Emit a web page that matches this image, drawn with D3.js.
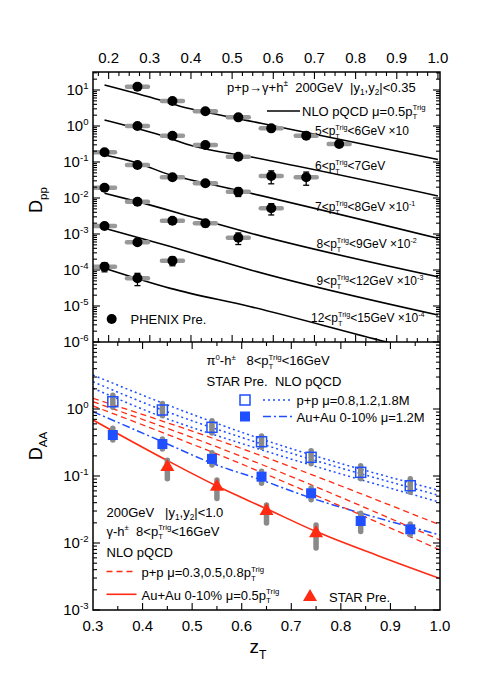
<!DOCTYPE html>
<html><head><meta charset="utf-8">
<script src="https://cdn.jsdelivr.net/npm/d3@7"></script>
<style>
body{margin:0;background:#fff}
text{font-family:"Liberation Sans",Arial,Helvetica,sans-serif;white-space:pre}
</style>
</head><body>
<svg id="c" width="491" height="688"></svg>
<script>
// ---------------- DATA ----------------
const topXTicks = [0.2,0.3,0.4,0.5,0.6,0.7,0.8,0.9,1.0];
const topYExps = [1,0,-1,-2,-3,-4,-5,-6];
const botXTicks = [0.3,0.4,0.5,0.6,0.7,0.8,0.9,1.0];
const botYExps = [0,-1,-2,-3];

const zA = [0.27,0.355,0.435,0.515,0.595,0.68,0.76];
const dA = [12.4,4.95,2.56,1.74,0.86,0.54,0.316];
const eA = [0,0,0,0,0,0,0];
const zB = [0.27,0.355,0.435,0.515,0.595,0.68];
const dB = [1.0,0.538,0.296,0.140,0.0408,0.0376];
const eB = [0,0,0,0,0.016,0.015];
const zC = [0.19,0.27,0.355,0.435,0.515,0.595];
const dC = [0.186,0.0826,0.0376,0.0256,0.0150,0.00518];
const eC = [0,0,0,0,0.004,0.0018];
const zD = [0.19,0.27,0.355,0.435,0.515];
const dD = [0.0193,0.00789,0.00234,0.00198,0.00079];
const eD = [0,0,0,0.0004,0.00028];
const zE = [0.19,0.27,0.355];
const dE = [0.00167,0.000588,0.000181];
const eE = [0.0003,0,0.00005];
const zF = [0.19,0.27];
const dF = [0.000124,0.0000588];
const eF = [0.000035,0.000022];

const nzA = [0.19,0.325,0.39,0.42,0.57,1.0];
const nA  = [13.8,5.27,3.16,2.66,1.19,0.118];
const nzB = [0.19,0.325,0.405,0.55,1.0];
const nB  = [1.47,0.56,0.278,0.135,0.0114];
const nzC = [0.19,0.27,0.35,0.42,0.545,1.0];
const nC  = [0.156,0.0938,0.0436,0.0284,0.0135,0.00076];
const nzD = [0.19,0.27,0.42,0.545,1.0];
const nD  = [0.0135,0.00794,0.00263,0.00105,0.0000646];
const nzE = [0.19,0.35,0.46,0.545,1.0];
const nE  = [0.00145,0.000447,0.000191,0.0001,0.0000056];
const nzF = [0.19,0.35,0.545,0.876,1.0];
const nF  = [0.000112,0.0000309,0.00000955,0.000001,0.00000045];

const topLabels = [
  "5<p_{T}^{Trig}<6GeV \u00d710",
  "6<p_{T}^{Trig}<7GeV",
  "7<p_{T}^{Trig}<8GeV \u00d710^{-1}",
  "8<p_{T}^{Trig}<9GeV \u00d710^{-2}",
  "9<p_{T}^{Trig}<12GeV \u00d710^{-3}",
  "12<p_{T}^{Trig}<15GeV \u00d710^{-4}"
];

const zSq = [0.34,0.44,0.54,0.64,0.74,0.84,0.94];
const ppSq = [1.285,0.966,0.533,0.325,0.19,0.1135,0.0716];
const ppSysUp = [0.25,0.25,0.25,0.22,0.25,0.25,0.27];
const ppSysDn = [0.17,0.18,0.18,0.17,0.2,0.2,0.2];
const aaSq = [0.409,0.30,0.18,0.0977,0.0552,0.0213,0.016];
const aaSysUp = [0.26,0.19,0.23,0.2,0.2,0.3,0.2];
const aaSysDn = [0.16,0.16,0.19,0.2,0.2,0.3,0.17];
const zTri = [0.45,0.55,0.65,0.75];
const aaTri = [0.136,0.069,0.030,0.014];
const triSysUp = [0.26,0.26,0.23,0.33];
const triSysDn = [0.33,0.33,0.34,0.4];

const bzDot = [0.3,0.44,0.616,1.0];
const ppMu08 = [3.21,1.23,0.409,0.0604];
const ppMu12 = [2.55,0.966,0.344,0.0508];
const ppMu18 = [2.04,0.76,0.28,0.0405];
const bzDD = [0.3,0.44,0.54,0.64,0.74,0.84,1.0];
const aaMu12 = [0.912,0.325,0.155,0.087,0.047,0.028,0.0132];
const bzRd = [0.3,0.54,1.0];
const gMu03 = [1.445,0.369,0.0186];
const gMu05 = [1.285,0.290,0.0111];
const gMu08 = [1.11,0.228,0.00787];
const bzRs = [0.3,0.45,0.55,0.65,0.75,0.875,1.0];
const gAA05 = [0.686,0.170,0.0708,0.0324,0.0148,0.00646,0.00295];

// ---------------- DRAW ----------------
const BLUE = "#1f4fff", RED = "#ff2a12", GREY = "#999";
const svg = d3.select('#c');
const L = 93, R = 440, T = 72, M = 342, B = 610;
const xT = d3.scaleLinear().domain([0.162,1.005]).range([L,R]);
const xB = d3.scaleLinear().domain([0.3,1.0]).range([L,R]);
const yT = d3.scaleLog().domain([1e-6,Math.pow(10,1.5)]).range([M,T]);
const yB = d3.scaleLog().domain([1e-3,10]).range([B,M]);

function parse(str){
  const out=[]; const re=/([_^])\{([^}]*)\}/g; let last=0,m;
  while((m=re.exec(str))){ if(m.index>last) out.push({t:'n',s:str.slice(last,m.index)}); out.push({t:m[1]==='_'?'sub':'sup',s:m[2]}); last=re.lastIndex; }
  if(last<str.length) out.push({t:'n',s:str.slice(last)});
  return out;
}
function rich(g,x,y,str,size,anchor,fill,sf){
  sf = sf||0.64;
  const grp=g.append('g'); let cx=0; const toks=parse(str);
  for(let i=0;i<toks.length;i++){
    const tk=toks[i];
    const fs = tk.t==='n'?size:size*sf;
    const dy = tk.t==='sub'? size*0.3 : tk.t==='sup'? -size*0.42 : 0;
    const el=grp.append('text').attr('x',cx).attr('y',dy).attr('font-size',fs).attr('fill',fill||'#000').text(tk.s);
    let w=el.node().getComputedTextLength();
    if(tk.t==='sub' && toks[i+1] && toks[i+1].t==='sup'){
      const el2=grp.append('text').attr('x',cx).attr('y',-size*0.42).attr('font-size',size*sf).attr('fill',fill||'#000').text(toks[i+1].s);
      w=Math.max(w, el2.node().getComputedTextLength()); i++;
    }
    cx+=w;
  }
  let tx=x; if(anchor==='end') tx=x-cx; else if(anchor==='middle') tx=x-cx/2;
  grp.attr('transform',`translate(${tx},${y})`);
  return grp;
}

const defs = svg.append('defs');
defs.append('clipPath').attr('id','cT').append('rect').attr('x',L).attr('y',T).attr('width',R-L).attr('height',M-T);
defs.append('clipPath').attr('id','cB').append('rect').attr('x',L).attr('y',M).attr('width',R-L).attr('height',B-M);

const gT = svg.append('g').attr('clip-path','url(#cT)');
const gB = svg.append('g').attr('clip-path','url(#cB)');

// ---- top panel ----
const lineT = d3.line().x(d=>xT(d[0])).y(d=>yT(d[1])).curve(d3.curveMonotoneX);
[[nzA,nA],[nzB,nB],[nzC,nC],[nzD,nD],[nzE,nE],[nzF,nF]].forEach(([zz,vv])=>{
  gT.append('path').attr('d',lineT(zz.map((z,i)=>[z,vv[i]]))).attr('fill','none').attr('stroke','#000').attr('stroke-width',1.6);
});
const topSeries = [[zA,dA,eA],[zB,dB,eB],[zC,dC,eC],[zD,dD,eD],[zE,dE,eE],[zF,dF,eF]];
topSeries.forEach(([zz,vv,ee])=>{
  zz.forEach((z,i)=>{
    gT.append('line').attr('x1',xT(z-0.0255)).attr('x2',xT(z+0.0255)).attr('y1',yT(vv[i])).attr('y2',yT(vv[i]))
      .attr('stroke',GREY).attr('stroke-width',4.5).attr('stroke-linecap','round');
  });
});
topSeries.forEach(([zz,vv,ee])=>{
  zz.forEach((z,i)=>{
    const x=xT(z);
    if(ee[i]>0){
      const y1=yT(vv[i]+ee[i]), y2=yT(Math.max(vv[i]-ee[i],vv[i]*0.05));
      gT.append('line').attr('x1',x).attr('x2',x).attr('y1',y1).attr('y2',y2).attr('stroke','#000').attr('stroke-width',1.3);
      [y1,y2].forEach(yy=>gT.append('line').attr('x1',x-3).attr('x2',x+3).attr('y1',yy).attr('y2',yy).attr('stroke','#000').attr('stroke-width',1.3));
    }
    gT.append('circle').attr('cx',x).attr('cy',yT(vv[i])).attr('r',5).attr('fill','#000');
  });
});

// ---- bottom panel ----
const lineB = d3.line().x(d=>xB(d[0])).y(d=>yB(d[1])).curve(d3.curveMonotoneX);
function bl(zz,vv,color,dash,w){
  gB.append('path').attr('d',lineB(zz.map((z,i)=>[z,vv[i]]))).attr('fill','none').attr('stroke',color)
    .attr('stroke-width',w||1.5).attr('stroke-dasharray',dash||null);
}
[ppMu08,ppMu12,ppMu18].forEach(v=>bl(bzDot,v,BLUE,'2,3',1.5));
bl(bzDD,aaMu12,BLUE,'8,3,2,3',1.5);
[gMu03,gMu05,gMu08].forEach(v=>bl(bzRd,v,RED,'6,4',1.3));
bl(bzRs,gAA05,RED,null,1.6);

function sysbar(x,v,up,dn){
  gB.append('line').attr('x1',x).attr('x2',x).attr('y1',yB(v*(1+up))).attr('y2',yB(v*(1-dn)))
    .attr('stroke','#8a8a8a').attr('stroke-width',5.5).attr('stroke-linecap','round');
}
zSq.forEach((z,i)=>{ sysbar(xB(z),ppSq[i],ppSysUp[i],ppSysDn[i]); sysbar(xB(z),aaSq[i],aaSysUp[i],aaSysDn[i]); });
zTri.forEach((z,i)=> sysbar(xB(z),aaTri[i],triSysUp[i],triSysDn[i]));

zSq.forEach((z,i)=>{
  gB.append('rect').attr('x',xB(z)-5).attr('y',yB(ppSq[i])-5).attr('width',10).attr('height',10)
    .attr('fill','none').attr('stroke',BLUE).attr('stroke-width',1.5);
  gB.append('rect').attr('x',xB(z)-5).attr('y',yB(aaSq[i])-5).attr('width',10).attr('height',10).attr('fill',BLUE);
});
const tri = d3.symbol().type(d3.symbolTriangle).size(85);
zTri.forEach((z,i)=>{
  gB.append('path').attr('d',tri()).attr('transform',`translate(${xB(z)},${yB(aaTri[i])})`).attr('fill',RED);
});

// ---- frames ----
svg.append('rect').attr('x',L).attr('y',T).attr('width',R-L).attr('height',B-T).attr('fill','none').attr('stroke','#000').attr('stroke-width',1.5);
svg.append('line').attr('x1',L).attr('x2',R).attr('y1',M).attr('y2',M).attr('stroke','#000').attr('stroke-width',1.5);

const ax = svg.append('g').attr('stroke','#000').attr('stroke-width',1.1);
function tick(x1,y1,x2,y2){ ax.append('line').attr('x1',x1).attr('y1',y1).attr('x2',x2).attr('y2',y2); }
for(let k=7;k<=40;k++){
  const z=k*0.025; const major=(k%4===0); const len=major?7:4;
  const x=xT(z); if(x<L+1||x>R-1) continue;
  tick(x,T,x,T+len); tick(x,M,x,M-len);
}
for(let k=6;k<=20;k++){
  const z=k*0.05; const major=(k%2===0); const len=major?7:4;
  const x=xB(z); if(x<L+1||x>R-1) continue;
  tick(x,M,x,M+len); tick(x,B,x,B-len);
}
function yTicks(scale,e0,e1,top,bot){
  for(let e=e0;e<=e1;e++){
    for(let m=1;m<=9;m++){
      const v=m*Math.pow(10,e); const y=scale(v);
      if(y<top-0.5||y>bot+0.5) continue;
      const len=(m===1)?7:4;
      tick(L,y,L+len,y); tick(R,y,R-len,y);
    }
  }
}
yTicks(yT,-6,1,T,M);
yTicks(yB,-3,0,M,B);

const lab = svg.append('g');
topXTicks.forEach(z=>lab.append('text').attr('x',xT(z)).attr('y',63).attr('text-anchor','middle').attr('font-size',15).text(z.toFixed(1)));
botXTicks.forEach(z=>lab.append('text').attr('x',xB(z)).attr('y',630.5).attr('text-anchor','middle').attr('font-size',15).text(z.toFixed(1)));
topYExps.forEach(e=>rich(lab,88.5,yT(Math.pow(10,e))+5,"10^{"+e+"}",15,'end'));
botYExps.forEach(e=>rich(lab,88.5,yB(Math.pow(10,e))+5,"10^{"+e+"}",15,'end'));

const t1=svg.append('g').attr('transform','translate(42,200) rotate(-90)'); rich(t1,0,0,"D_{pp}",18,'middle');
const t2=svg.append('g').attr('transform','translate(42,446) rotate(-90)'); rich(t2,0,0,"D_{AA}",18,'middle');
rich(svg,258,653,"z_{T}",19,'middle');

// ---- top panel annotations ----
const tl = svg.append('g');
rich(tl,227,91.5,"p+p\u2192\u03b3+h^{\u00b1}  200GeV  |y_{1},y_{2}|<0.35",13);
tl.append('line').attr('x1',267).attr('x2',300).attr('y1',111).attr('y2',111).attr('stroke','#000').attr('stroke-width',1.6);
rich(tl,302,115.5,"NLO pQCD \u03bc=0.5p_{T}^{Trig}",13,null,null,0.6);
const labPos = [[315,135],[315,170],[315,211],[316.5,248],[316.5,285],[311,322]];
topLabels.forEach((s,i)=>rich(tl,labPos[i][0],labPos[i][1],s,12,null,null,0.6));
tl.append('circle').attr('cx',111.7).attr('cy',319).attr('r',5).attr('fill','#000');
rich(tl,130.5,324,"PHENIX Pre.",13);

// ---- bottom panel annotations ----
const bl2 = svg.append('g');
rich(bl2,206.5,365,"\u03c0^{0}-h^{\u00b1}   8<p_{T}^{Trig}<16GeV",13,null,null,0.6);
rich(bl2,206.5,386,"STAR Pre.  NLO pQCD",13);
bl2.append('rect').attr('x',240).attr('y',395).attr('width',10).attr('height',10).attr('fill','none').attr('stroke',BLUE).attr('stroke-width',1.5);
bl2.append('line').attr('x1',263).attr('x2',293).attr('y1',400).attr('y2',400).attr('stroke',BLUE).attr('stroke-width',1.5).attr('stroke-dasharray','2,3');
rich(bl2,296.5,405,"p+p \u03bc=0.8,1.2,1.8M",13);
bl2.append('rect').attr('x',240).attr('y',411.5).attr('width',10).attr('height',10).attr('fill',BLUE);
bl2.append('line').attr('x1',263).attr('x2',293).attr('y1',416.5).attr('y2',416.5).attr('stroke',BLUE).attr('stroke-width',1.5).attr('stroke-dasharray','8,3,2,3');
rich(bl2,296.5,421.5,"Au+Au 0-10% \u03bc=1.2M",13);

rich(bl2,106.5,516.5,"200GeV   |y_{1},y_{2}|<1.0",13);
rich(bl2,106.5,535.5,"\u03b3-h^{\u00b1}  8<p_{T}^{Trig}<16GeV",13,null,null,0.6);
rich(bl2,106.5,556.5,"NLO pQCD",13);
bl2.append('line').attr('x1',106.5).attr('x2',136.5).attr('y1',571.5).attr('y2',571.5).attr('stroke',RED).attr('stroke-width',1.3).attr('stroke-dasharray','6,4');
rich(bl2,141.5,577,"p+p \u03bc=0.3,0.5,0.8p_{T}^{Trig}",13,null,null,0.6);
bl2.append('line').attr('x1',106.5).attr('x2',136.5).attr('y1',594.3).attr('y2',594.3).attr('stroke',RED).attr('stroke-width',1.6);
rich(bl2,141.5,599.5,"Au+Au 0-10% \u03bc=0.5p_{T}^{Trig}",13,null,null,0.6);
bl2.append('path').attr('d',tri()).attr('transform','translate(310,597)').attr('fill',RED);
rich(bl2,329,601.5,"STAR Pre.",13);
</script>
</body></html>
